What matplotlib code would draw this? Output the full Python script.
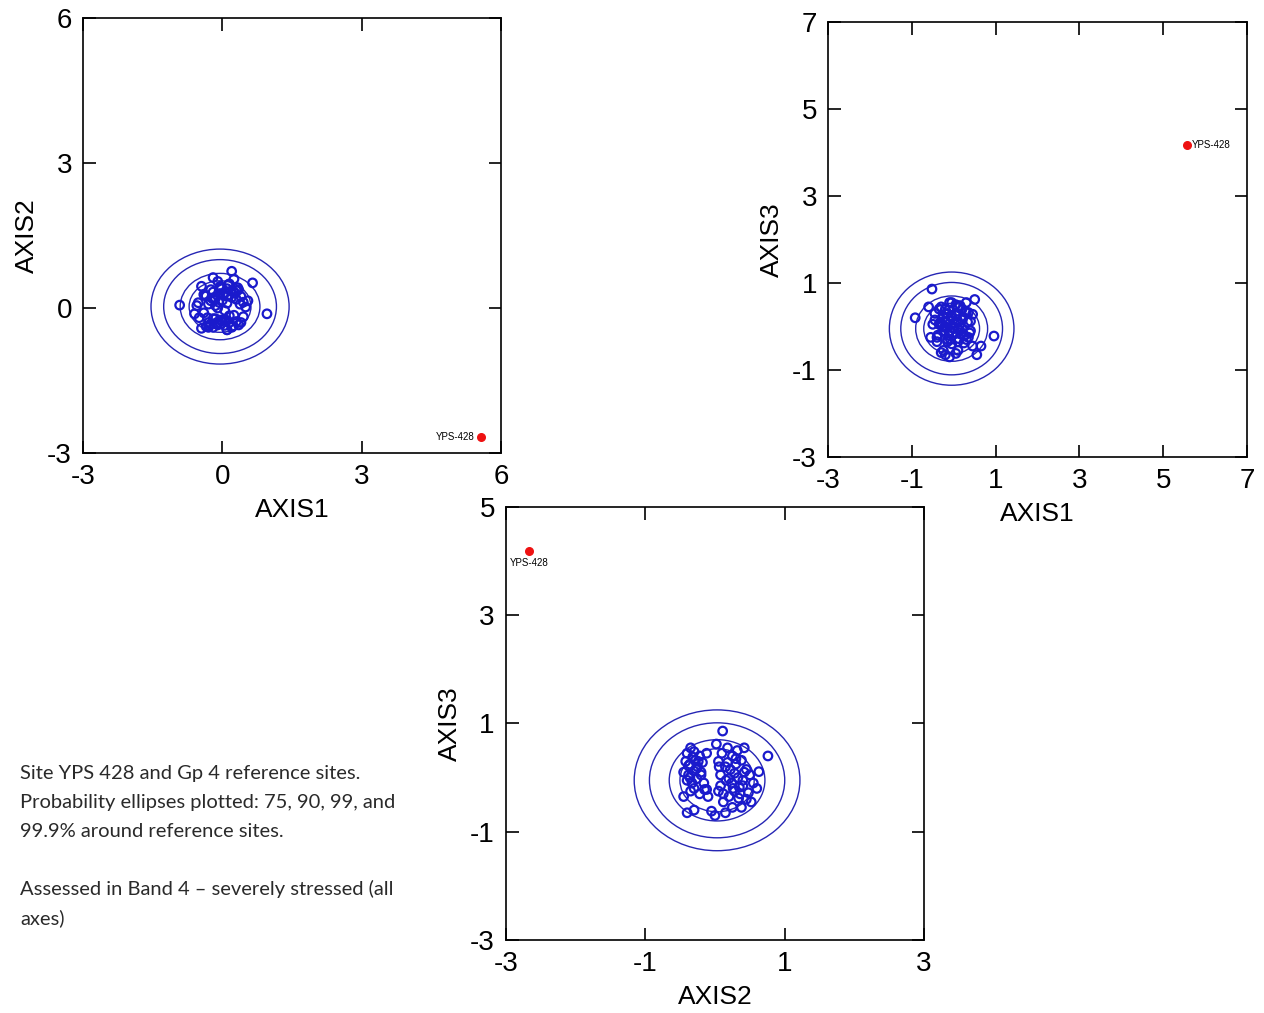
import matplotlib
matplotlib.use("Agg")
import matplotlib.pyplot as plt
from matplotlib.patches import Ellipse

plt.rcParams["font.family"] = ["Liberation Sans", "DejaVu Sans"]
plt.rcParams["axes.unicode_minus"] = False

# ordination scores of the Gp 4 reference sites
AXIS1 = [-0.30, -0.10, 0.15, -0.45, 0.05, 0.30, -0.20, 0.10, -0.35, 0.40,
         -0.05, 0.20, -0.25, 0.00, -0.50, 0.35, -0.15, 0.25, -0.40, 0.10,
         0.45, -0.60, -0.30, 0.05, -0.20,
         -0.15, 0.10, 0.30, -0.35, 0.05, -0.52, 0.50, -0.25, 0.20, -0.05,
         0.35, -0.45, 0.15, -0.10, 0.25, -0.30, 0.00, 0.40, -0.20, 0.10,
         -0.40, 0.30, -0.05, 0.65, -0.15, 0.45, -0.55, 0.10, -0.25, 0.55,
         -0.10, 0.20, -0.20, 0.96, -0.05, -0.92,
         -0.12, 0.08, 0.22, -0.32, 0.02, 0.18, -0.22, 0.33, -0.08, 0.12,
         -0.28, 0.06, 0.28, -0.18, 0.38, -0.02, 0.15, -0.38, 0.24, -0.12]
AXIS2 = [-0.40, -0.35, -0.30, -0.42, -0.36, -0.28, -0.22, -0.45, -0.38, -0.30,
         -0.25, -0.40, -0.33, -0.26, -0.20, -0.35, -0.22, -0.15, -0.10, -0.45,
         -0.18, -0.12, -0.30, -0.05, -0.40,
         0.05, 0.10, 0.18, 0.25, 0.32, 0.11, 0.02, 0.15, 0.22, 0.30,
         0.38, 0.45, 0.50, 0.55, 0.60, 0.08, 0.16, 0.24, 0.33, 0.40,
         0.28, 0.36, 0.45, 0.52, 0.20, 0.12, 0.05, 0.25, 0.38, 0.15,
         0.00, 0.76, 0.63, -0.12, 0.42, 0.06,
         -0.32, -0.27, -0.38, -0.20, 0.28, 0.35, 0.20, 0.42, 0.12, 0.48,
         -0.36, -0.24, 0.30, 0.18, 0.08, 0.40, -0.16, 0.26, 0.34, -0.30]
AXIS3 = [0.45, 0.55, 0.48, 0.30, 0.25, 0.32, 0.40, 0.10, 0.05, 0.12,
         0.20, -0.05, -0.10, -0.02, 0.05, -0.25, -0.30, -0.22, -0.35, -0.35,
         0.28, 0.45, -0.60, -0.62, -0.65,
         0.30, 0.45, 0.55, 0.40, 0.50, 0.86, 0.62, 0.20, 0.15, 0.25,
         0.32, 0.15, 0.05, -0.10, -0.20, 0.05, -0.05, -0.10, 0.00, -0.05,
         -0.25, -0.30, -0.40, -0.45, -0.35, -0.45, -0.25, -0.55, -0.55, -0.65,
         -0.70, 0.40, 0.11, -0.22, 0.55, 0.20,
         0.38, 0.16, 0.22, 0.10, 0.08, -0.18, -0.02, 0.10, -0.30, -0.28,
         0.00, 0.30, 0.35, 0.28, -0.15, -0.15, -0.10, -0.20, -0.38, -0.20]

# test site
SITE_NAME = "YPS-428"
SITE = {"AXIS1": 5.56, "AXIS2": -2.67, "AXIS3": 4.18}

# reference-group centroid and spread per axis
CENTER = {"AXIS1": -0.05, "AXIS2": 0.03, "AXIS3": -0.05}
SPREAD = {"AXIS1": 0.40, "AXIS2": 0.32, "AXIS3": 0.35}
# 75, 90, 99, 99.9% probability ellipses: sqrt of chi-square (2 df) quantiles
ELLIPSE_SCALE = [1.665, 2.146, 3.035, 3.717]

SCORES = {"AXIS1": AXIS1, "AXIS2": AXIS2, "AXIS3": AXIS3}

NOTE_LINES = [
    "Site YPS 428 and Gp 4 reference sites.",
    "Probability ellipses plotted: 75, 90, 99, and",
    "99.9% around reference sites.",
    "",
    "Assessed in Band 4 \u2013 severely stressed (all",
    "axes)",
]

BLUE = "#1a1acc"
ELLIPSE_BLUE = "#2626b4"


def panel(fig, rect, xname, yname, xticks, yticks, label_where):
    ax = fig.add_axes(rect)
    x, y = SCORES[xname], SCORES[yname]
    for s in ELLIPSE_SCALE:
        ax.add_patch(Ellipse((CENTER[xname], CENTER[yname]),
                             2 * s * SPREAD[xname], 2 * s * SPREAD[yname],
                             fill=False, edgecolor=ELLIPSE_BLUE, linewidth=1.0))
    ax.scatter(x, y, s=38, facecolors="none", edgecolors=BLUE, linewidths=1.6,
               zorder=3)
    sx, sy = SITE[xname], SITE[yname]
    ax.scatter([sx], [sy], s=30, color="#ee1111", zorder=4)
    if label_where == "left":
        ax.annotate(SITE_NAME, (sx, sy), xytext=(-4, 0), textcoords="offset points",
                    ha="right", va="center", fontsize=7)
    elif label_where == "right":
        ax.annotate(SITE_NAME, (sx, sy), xytext=(4, 0), textcoords="offset points",
                    ha="left", va="center", fontsize=7)
    else:
        ax.annotate(SITE_NAME, (sx, sy), xytext=(0, -5), textcoords="offset points",
                    ha="center", va="top", fontsize=7)

    ax.set_xlim(xticks[0], xticks[-1])
    ax.set_ylim(yticks[0], yticks[-1])
    ax.set_xticks(xticks)
    ax.set_yticks(yticks)
    ax.tick_params(direction="in", length=9, width=1.2, top=True, right=True,
                   labelsize=20, pad=8)
    for sp in ax.spines.values():
        sp.set_linewidth(1.2)
    ax.set_xlabel(xname, fontsize=19, labelpad=6)
    ax.set_ylabel(yname, fontsize=19, labelpad=6)
    return ax


fig = plt.figure(figsize=(12.64, 10.13), dpi=100)
fig.patch.set_facecolor("white")

panel(fig, [0.0657, 0.5528, 0.3307, 0.4294], "AXIS1", "AXIS2",
      [-3, 0, 3, 6], [-3, 0, 3, 6], "left")
panel(fig, [0.6551, 0.5489, 0.3315, 0.4294], "AXIS1", "AXIS3",
      [-3, -1, 1, 3, 5, 7], [-3, -1, 1, 3, 5, 7], "right")
panel(fig, [0.4003, 0.0721, 0.3307, 0.4274], "AXIS2", "AXIS3",
      [-3, -1, 1, 3], [-3, -1, 1, 3, 5], "below")

for i, line in enumerate(NOTE_LINES):
    fig.text(20 / 1264, 1 - (773 + 29 * i) / 1013, line, ha="left", va="center",
             fontsize=14.5, color="#2a2a2a", family=["Lato", "DejaVu Sans"])

fig.savefig("out.png", dpi=100, facecolor="white")
